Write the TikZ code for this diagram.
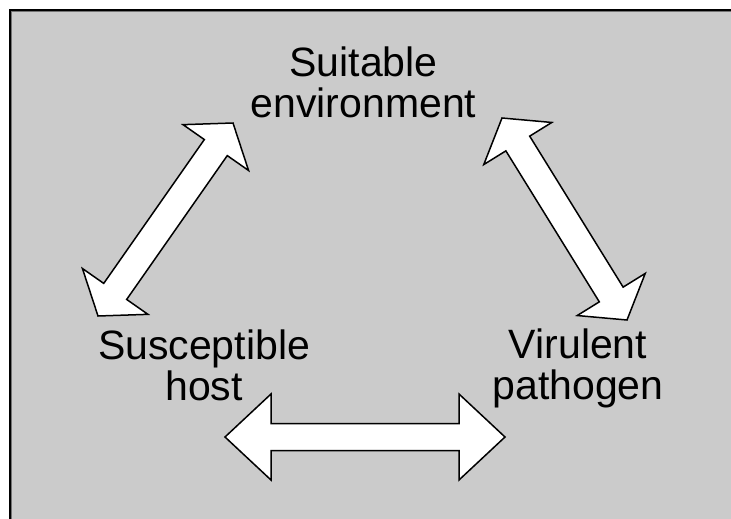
\documentclass[tikz,border=0pt]{standalone}
\usepackage{fontspec}
\setmainfont{Liberation Sans}
\usetikzlibrary{calc}
\definecolor{bg}{RGB}{203,203,203}
\newcommand\fatarrow[5]{% #1 start, #2 end, #3 head length, #4 head half-width, #5 shaft half-width
  \draw[fatarr] (#1)
    -- ($(#1)!#3!(#2)!#4!90:(#2)$)
    -- ($(#1)!#3!(#2)!#5!90:(#2)$)
    -- ($(#2)!#3!(#1)!#5!-90:(#1)$)
    -- ($(#2)!#3!(#1)!#4!-90:(#1)$)
    -- (#2)
    -- ($(#2)!#3!(#1)!#4!90:(#1)$)
    -- ($(#2)!#3!(#1)!#5!90:(#1)$)
    -- ($(#1)!#3!(#2)!#5!-90:(#2)$)
    -- ($(#1)!#3!(#2)!#4!-90:(#2)$)
    -- cycle;}
\begin{document}
\begin{tikzpicture}[x=1pt,y=-1pt,
  lbl/.style={align=center,inner sep=0pt,anchor=north,font=\fontsize{41}{41}\selectfont},
  fatarr/.style={draw=black,fill=white,line width=1.5pt,line join=miter}]
\useasboundingbox (0,0) rectangle (731,519);
\fill[white] (0,0) rectangle (731,519);
\fill[bg] (9,9) rectangle (731,519);
\draw[black!55,line width=1.2pt] (11.4,519) -- (11.4,11.4) -- (731,11.4);
\draw[black,line width=1.6pt] (9.8,519) -- (9.8,9.8) -- (731,9.8);

\node[lbl] (env) at (363.5,46.5) {Suitable\\environment};
\node[lbl] (host) at (204,330) {Susceptible\\host};
\node[lbl] (path) at (578,329) {Virulent\\pathogen};

\coordinate (h1) at (225,437);
\coordinate (h2) at (505,437);
\coordinate (l1) at (98,316);
\coordinate (l2) at (233,123);
\coordinate (r1) at (502,118);
\coordinate (r2) at (627,320);

\fatarrow{h1}{h2}{46pt}{43pt}{13.5pt}
\fatarrow{l1}{l2}{30pt}{40pt}{14pt}
\fatarrow{r1}{r2}{30pt}{40pt}{14pt}
\end{tikzpicture}
\end{document}
